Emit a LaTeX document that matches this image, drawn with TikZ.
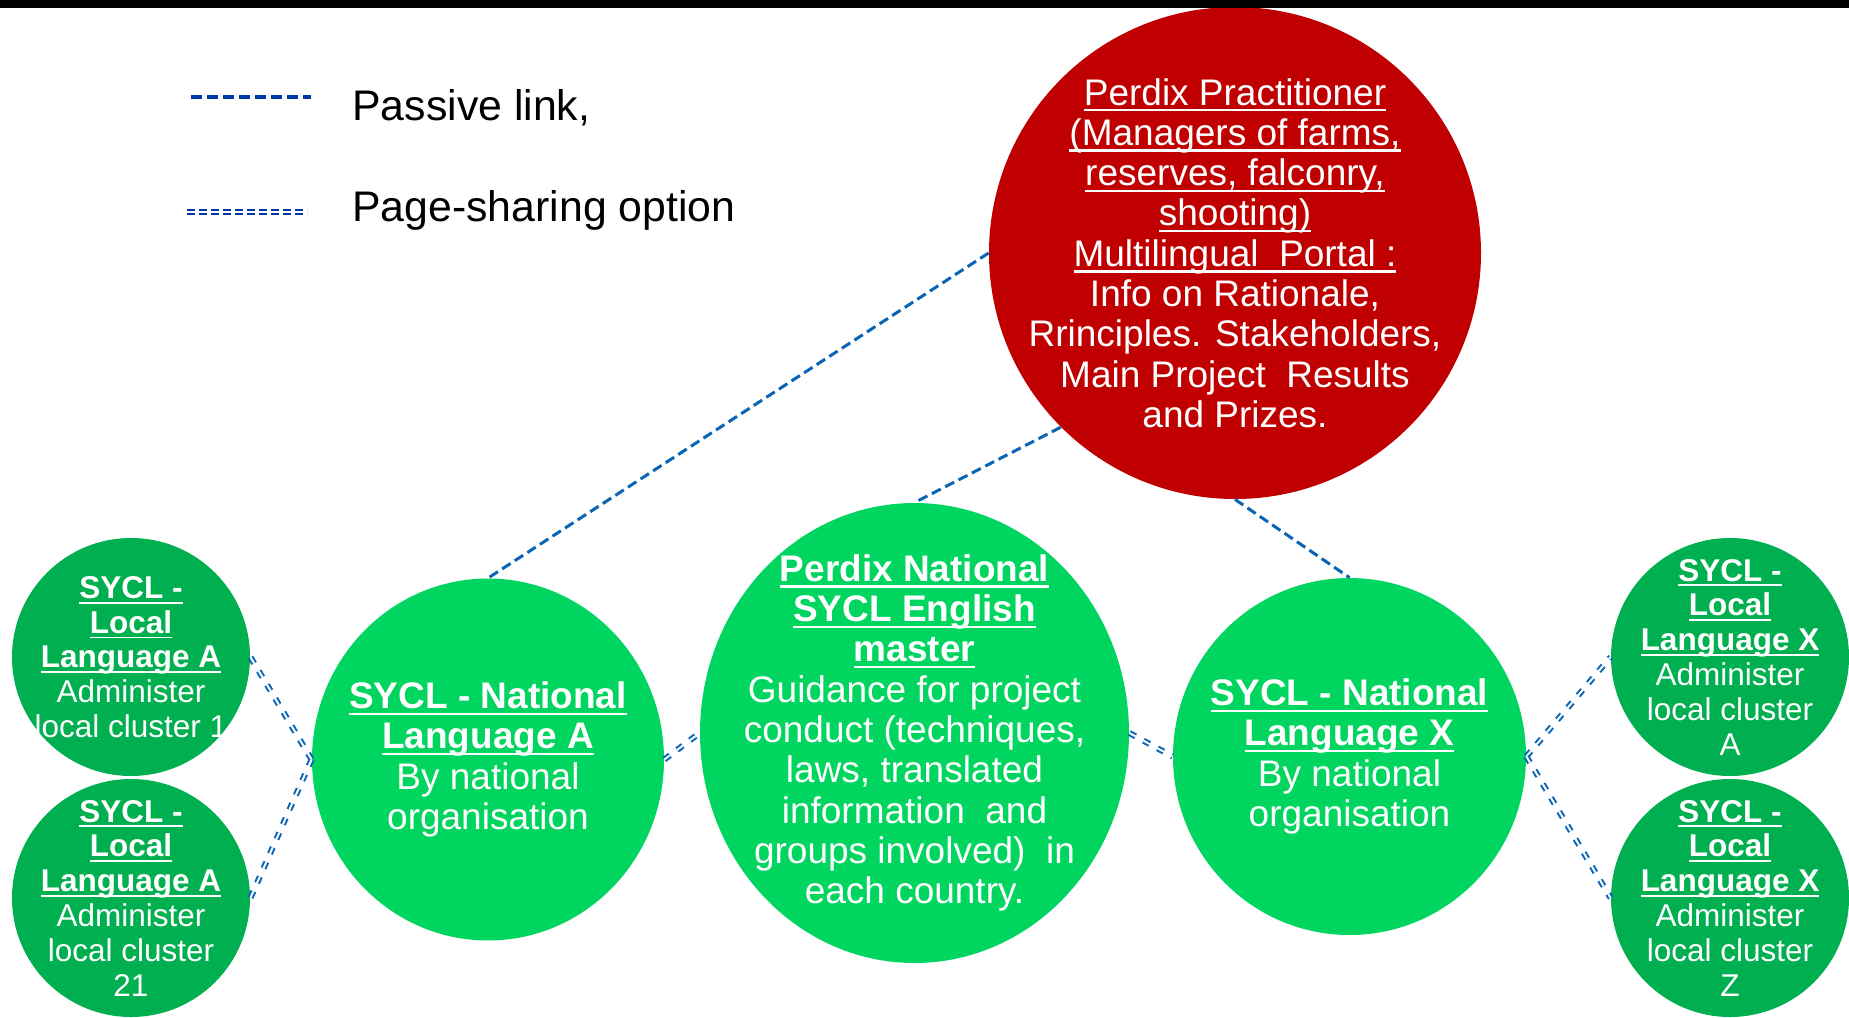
\documentclass[tikz,border=0pt]{standalone}
\usepackage{fontspec}
\setmainfont{Liberation Sans}
\usetikzlibrary{shapes.geometric}
\definecolor{pdred}{RGB}{192,0,0}
\definecolor{locgreen}{RGB}{0,176,80}
\definecolor{natgreen}{RGB}{0,213,96}
\definecolor{linkblue}{RGB}{10,100,180}
\definecolor{legblue}{RGB}{0,56,168}
\newsavebox\myulbox
\newcommand\ulx[1]{\sbox\myulbox{#1}\rlap{\vrule height -0.11em depth 0.17em width \wd\myulbox}\usebox\myulbox}
\begin{document}
\begin{tikzpicture}[x=0.5pt,y=-0.5pt,
  bubble/.style={ellipse, inner sep=0pt, draw=none},
  redbub/.style={bubble, fill=pdred, minimum width=246pt, minimum height=246pt},
  locbub/.style={bubble, fill=locgreen, minimum width=119pt, minimum height=119pt},
  natbub/.style={bubble, fill=natgreen},
  bigtxt/.style={text=white, align=center, inner sep=0pt, font=\fontsize{18.5}{20.15}\selectfont},
  smalltxt/.style={text=white, align=center, inner sep=0pt, font=\fontsize{15.75}{17.4}\selectfont},
  legtxt/.style={anchor=base west, inner sep=0pt, font=\fontsize{21.4}{25}\selectfont},
  passive/.style={draw=linkblue, line width=1.5pt, dash pattern=on 5pt off 2.5pt},
  sharing/.style={draw=linkblue, line width=1pt, double=white, double distance=1pt, dash pattern=on 3.5pt off 4.5pt},
  legpassive/.style={draw=legblue, line width=2pt, dash pattern=on 5.5pt off 2.5pt},
  legsharing/.style={draw=legblue, line width=1pt, double=white, double distance=1pt, dash pattern=on 4pt off 2pt}]
\useasboundingbox (0,0) rectangle (1849,1018);

% circles
\node[redbub] (red) at (1235,253) {};
\node[locbub] (locA1) at (131,657) {};
\node[locbub] (locA2) at (131,898) {};
\node[locbub] (locX1) at (1730,657) {};
\node[locbub] (locX2) at (1730,898) {};
\node[natbub, minimum width=176pt, minimum height=181pt] (natA) at (488,759.5) {};
\node[natbub, minimum width=214.5pt, minimum height=230pt] (master) at (914.5,733) {};
\node[natbub, minimum width=176.5pt, minimum height=178.5pt] (natX) at (1349.5,756.5) {};

% connectors
\draw[passive] (red.west) -- (natA.north);
\draw[passive] (red.225) -- (master.north);
\draw[passive] (red.south) -- (natX.north);
\draw[sharing] (natA.west) -- (locA1.east);
\draw[sharing] (natA.west) -- (locA2.east);
\draw[sharing] (natA.east) -- (master.west);
\draw[sharing] (master.east) -- (natX.west);
\draw[sharing] (natX.east) -- (locX1.west);
\draw[sharing] (natX.east) -- (locX2.west);

% texts
\node[bigtxt] (redtxt) at (red.center) {\ulx{Perdix Practitioner}\\
\ulx{(Managers of farms,}\\
\ulx{reserves, falconry,}\\
\ulx{shooting)}\\
\ulx{Multilingual~~Portal~:}\\
Info on Rationale,\\
Rrinciples. Stakeholders,\\
Main Project~~Results\\
and Prizes.};
\node[bigtxt] (mastertxt) at (master.center) {\textbf{\ulx{Perdix National}}\\
\textbf{\ulx{SYCL English}}\\
\textbf{\ulx{master}}\\
Guidance for project\\
conduct (techniques,\\
laws, translated\\
information~~and\\
groups involved)~~in\\
each country.};
\node[bigtxt] (natAtxt) at (natA.center) {\textbf{\ulx{SYCL - National}}\\
\textbf{\ulx{Language A}}\\
By national\\
organisation};
\node[bigtxt] (natXtxt) at (natX.center) {\textbf{\ulx{SYCL - National}}\\
\textbf{\ulx{Language X}}\\
By national\\
organisation};
\node[smalltxt] (locA1txt) at (locA1.center) {\textbf{\ulx{SYCL -}}\\
\textbf{\ulx{Local}}\\
\textbf{\ulx{Language A}}\\
Administer\\
local cluster 1};
\node[smalltxt] (locA2txt) at (locA2.center) {\textbf{\ulx{SYCL -}}\\
\textbf{\ulx{Local}}\\
\textbf{\ulx{Language A}}\\
Administer\\
local cluster\\
21};
\node[smalltxt] (locX1txt) at (locX1.center) {\textbf{\ulx{SYCL -}}\\
\textbf{\ulx{Local}}\\
\textbf{\ulx{Language X}}\\
Administer\\
local cluster\\
A};
\node[smalltxt] (locX2txt) at (locX2.center) {\textbf{\ulx{SYCL -}}\\
\textbf{\ulx{Local}}\\
\textbf{\ulx{Language X}}\\
Administer\\
local cluster\\
Z};

% legend
\coordinate (lp1) at (191,97);
\coordinate (lp2) at (311,97);
\coordinate (ls1) at (187,212);
\coordinate (ls2) at (307,212);
\draw[legpassive] (lp1) -- (lp2);
\draw[legsharing] (ls1) -- (ls2);
\node[legtxt] (legpass) at (352,120) {Passive link,};
\node[legtxt] (legshare) at (352,221.7) {Page-sharing option};

% top bar
\fill[black] (0,0) rectangle (1849,8);
\end{tikzpicture}
\end{document}
